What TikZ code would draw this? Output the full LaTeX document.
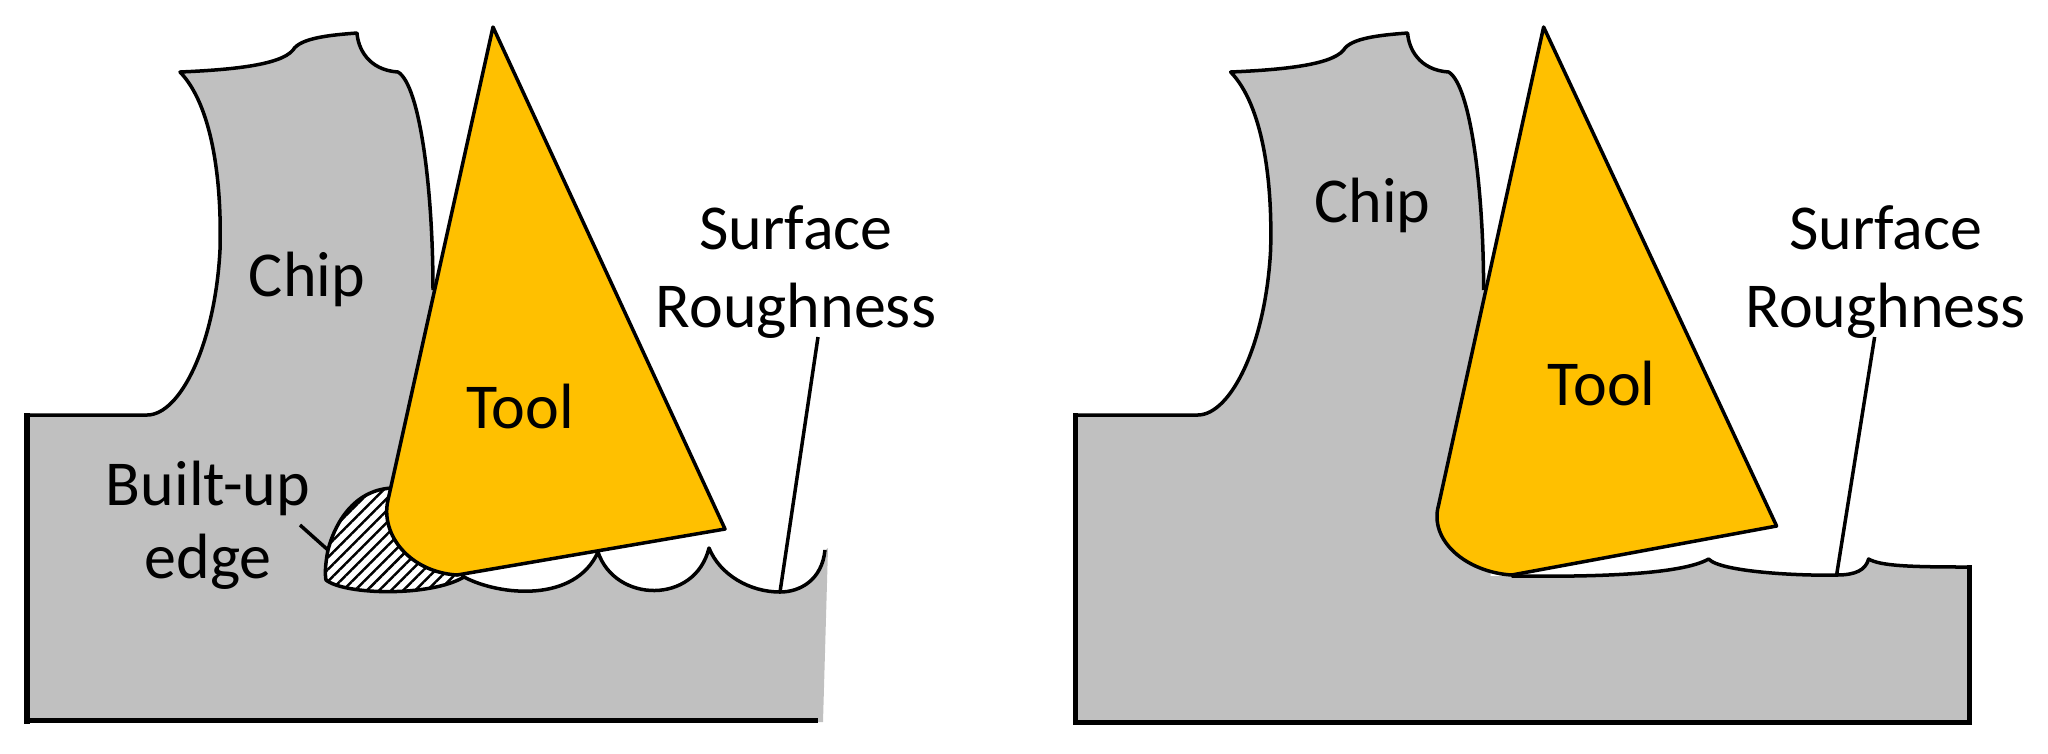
\documentclass[tikz,border=0pt]{standalone}
\usepackage{fontspec}
\setmainfont{Carlito}
\usetikzlibrary{patterns.meta}
\definecolor{toolcol}{HTML}{FFC000}
\definecolor{workcol}{HTML}{C0C0C0}
\tikzset{outline/.style = {line width = 0.035cm, line join = round}}
\tikzset{edge/.style = {line width = 0.05cm}}
\tikzset{toolbody/.style = {outline, draw, fill = toolcol}}
\tikzset{lab/.style = {inner sep = 0, anchor = base, font = \fontsize{18.2}{22}\selectfont}}
\tikzset{lablines/.style = {inner sep = 0, align = center, font = \fontsize{18.2}{22}\selectfont}}
\newcommand{\chipedge}{(147,415) .. controls (180,415) and (215,345) .. (220,250)
  .. controls (222,180) and (212,105) .. (180,72)
  .. controls (225,70) and (280,66) .. (293,50)
  .. controls (300,38) and (330,35) .. (357,33)
  .. controls (358,48) and (368,70) .. (398,72)
  .. controls (420,85) and (433,190) .. (433,290)}

\begin{document}
\begin{tikzpicture}[x=0.01cm, y=-0.01cm]
  \useasboundingbox (0,0) rectangle (2048,753);

  % left
  \fill [workcol] (27,415) -- \chipedge -- (440,577) -- (464,577)
    .. controls (500,596) and (575,603) .. (598,552)
    .. controls (615,603) and (695,605) .. (709,548)
    .. controls (720,575) and (750,592) .. (780,592)
    .. controls (800,592) and (822,580) .. (825,550)
    -- (828,548) -- (823,722) -- (27,722) -- cycle;
  \draw [outline] (27,415) -- \chipedge;
  \draw [outline] (464,577)
    .. controls (500,596) and (575,603) .. (598,552)
    .. controls (615,603) and (695,605) .. (709,548)
    .. controls (720,575) and (750,592) .. (780,592)
    .. controls (800,592) and (822,580) .. (825,550);
  \draw [edge] (27,413) -- (27,724);
  \draw [edge] (27,720) -- (818,720);
  \draw [outline, fill=white, postaction={pattern={Lines[angle=45, distance=0.085cm, line width=0.025cm]}}]
    (392,488) .. controls (350,490) and (333,530) .. (328,550)
    .. controls (325,565) and (325,575) .. (326,580)
    .. controls (345,595) and (430,597) .. (464,577) -- cycle;
  \draw [toolbody] (493,27) -- (388,500) .. controls (380,535) and (410,572) .. (457,575) -- (725,529) -- cycle;
  \node [lab] (chipL) at (307,296) {Chip};
  \node [lab] (toolL) at (520,428) {Tool};
  \node [lablines] (surfaceL) at (796,272) {Surface\\Roughness};
  \node [lab] (builtup) at (208,505) {Built-up};
  \node [lab] (edgeL) at (208,578) {edge};
  \coordinate (builtfrom) at (300,525);
  \coordinate (builtto) at (328,550);
  \coordinate (roughfromL) at (818,337);
  \coordinate (roughtoL) at (780,592);
  \draw [outline] (builtfrom) -- (builtto);
  \draw [outline] (roughfromL) -- (roughtoL);

  % right
  \begin{scope}[xshift=10.5cm]
    \fill [workcol] (25,415) -- \chipedge -- (440,576) -- (461,576)
      .. controls (540,577) and (630,575) .. (658,559)
      .. controls (670,572) and (750,576) .. (786,575)
      .. controls (805,575) and (815,570) .. (818,559)
      .. controls (830,566) and (860,567) .. (919,567)
      -- (919,722) -- (25,722) -- cycle;
    \draw [outline] (25,415) -- \chipedge;
    \draw [outline] (461,576)
      .. controls (540,577) and (630,575) .. (658,559)
      .. controls (670,572) and (750,576) .. (786,575)
      .. controls (805,575) and (815,570) .. (818,559)
      .. controls (830,566) and (860,567) .. (919,567);
    \draw [edge] (25,413) -- (25,722) -- (919,722) -- (919,565);
    \draw [toolbody] (493,27) -- (388,505) .. controls (378,540) and (415,572) .. (461,575) -- (726,526) -- cycle;
    \node [lab] (chipR) at (322,222) {Chip};
    \node [lab] (toolR) at (551,405) {Tool};
    \node [lablines] (surfaceR) at (835,272) {Surface\\Roughness};
    \coordinate (roughfromR) at (824,337);
    \coordinate (roughtoR) at (786,575);
    \draw [outline] (roughfromR) -- (roughtoR);
  \end{scope}
\end{tikzpicture}
\end{document}
